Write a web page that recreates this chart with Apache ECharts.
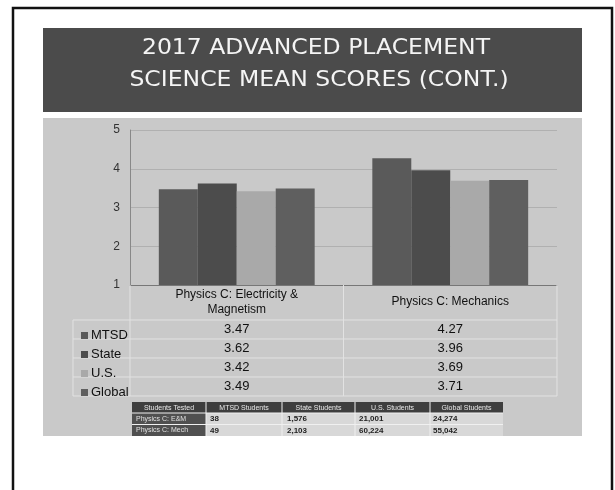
<!DOCTYPE html>
<html>
<head>
<meta charset="utf-8">
<script src="https://cdn.jsdelivr.net/npm/echarts@6/dist/echarts.min.js"></script>
<style>html,body{margin:0;padding:0;background:#fff}#c{width:615px;height:490px}</style>
</head>
<body>
<div id="c"></div>
<script>
// ---- data ----
const titleLines = ['2017 ADVANCED PLACEMENT', 'SCIENCE MEAN SCORES (CONT.)'];
const categories = ['Physics C: Electricity &\nMagnetism', 'Physics C: Mechanics'];
const seriesNames = ['MTSD', 'State', 'U.S.', 'Global'];
const mtsd = [3.47, 4.27];
const state = [3.62, 3.96];
const us = [3.42, 3.69];
const global = [3.49, 3.71];
const yTicks = [1, 2, 3, 4, 5];
const countHeaders = ['Students Tested', 'MTSD Students', 'State Students', 'U.S. Students', 'Global Students'];
const countRowLabels = ['Physics C: E&M', 'Physics C: Mech'];
const countMTSD = ['38', '49'];
const countState = ['1,576', '2,103'];
const countUS = ['21,001', '60,224'];
const countGlobal = ['24,274', '55,042'];

const seriesValues = [mtsd, state, us, global];
const colors = ['#5a5a5a', '#4c4c4c', '#a9a9a9', '#5f5f5f'];
const FONT = 'Liberation Sans, Arial, sans-serif';

const chart = echarts.init(document.getElementById('c'), null, {renderer: 'canvas'});

const baseGraphic = [
  // slide frame
  {type: 'rect', z: -10, silent: true, shape: {x: 13, y: 8, width: 599, height: 500}, style: {fill: '#fff', stroke: '#111', lineWidth: 2.5}},
  // title band
  {type: 'rect', z: -9, silent: true, shape: {x: 43, y: 28, width: 539, height: 84}, style: {fill: '#4b4b4b'}},
  {type: 'text', z: 5, silent: true, x: 316, y: 49, scaleX: 1.12, originX: 0, style: {text: titleLines[0], fill: '#f4f4f4', font: '21px DejaVu Sans, sans-serif', textAlign: 'center', textVerticalAlign: 'middle'}},
  {type: 'text', z: 5, silent: true, x: 319, y: 81, scaleX: 1.12, originX: 0, style: {text: titleLines[1], fill: '#f4f4f4', font: '21px DejaVu Sans, sans-serif', textAlign: 'center', textVerticalAlign: 'middle'}},
  // chart background
  {type: 'rect', z: -9, silent: true, shape: {x: 43, y: 118, width: 539, height: 318}, style: {fill: '#c9c9c9'}}
];

const option = {
  animation: false,
  backgroundColor: '#fff',
  color: colors,
  grid: {left: 130, right: 58, top: 130, bottom: 205, containLabel: false},
  legend: {
    orient: 'vertical', left: 76, top: 321, itemGap: 0, itemWidth: 7, itemHeight: 7, icon: 'rect',
    data: seriesNames,
    textStyle: {fontFamily: FONT, fontSize: 13, color: '#111', lineHeight: 19, padding: [0, 0, 0, -2]}
  },
  xAxis: {
    type: 'category', data: categories,
    axisLine: {show: true, lineStyle: {color: '#777'}},
    axisTick: {show: false},
    axisLabel: {fontFamily: FONT, fontSize: 12, color: '#111', margin: 17, verticalAlign: 'middle', lineHeight: 15}
  },
  yAxis: {
    type: 'value', min: 1, max: 5, interval: 1,
    axisLine: {show: true, lineStyle: {color: '#888'}},
    axisTick: {show: false},
    axisLabel: {fontFamily: FONT, fontSize: 12, color: '#333', margin: 10, formatter: v => yTicks.includes(v) ? String(v) : ''},
    splitLine: {show: true, lineStyle: {color: '#b0b0b0'}}
  },
  series: seriesNames.map((n, i) => ({
    name: n, type: 'bar', data: seriesValues[i], barGap: '0%', barCategoryGap: '27%',
    itemStyle: {color: colors[i]}
  })),
  graphic: baseGraphic
};
chart.setOption(option);

// data table and counts table, positioned from the axis scale
const extra = [];
const xs = categories.map(c => chart.convertToPixel({xAxisIndex: 0}, c));
const yBase = chart.convertToPixel({yAxisIndex: 0}, 1);
const rowTop = yBase + 35, rowH = 19;
const left = 73, right = 557, mid = (xs[0] + xs[1]) / 2;
// table lines
for (let r = 0; r <= 4; r++) {
  extra.push({type: 'line', silent: true, z: 1, shape: {x1: left, y1: rowTop + r * rowH, x2: right, y2: rowTop + r * rowH}, style: {stroke: '#e2e2e2', lineWidth: 1}});
}
extra.push({type: 'line', silent: true, z: 1, shape: {x1: left, y1: rowTop, x2: left, y2: rowTop + 4 * rowH}, style: {stroke: '#e2e2e2', lineWidth: 1}});
extra.push({type: 'line', silent: true, z: 1, shape: {x1: 130, y1: yBase, x2: 130, y2: rowTop + 4 * rowH}, style: {stroke: '#e2e2e2', lineWidth: 1}});
extra.push({type: 'line', silent: true, z: 1, shape: {x1: mid, y1: yBase, x2: mid, y2: rowTop + 4 * rowH}, style: {stroke: '#e2e2e2', lineWidth: 1}});
extra.push({type: 'line', silent: true, z: 1, shape: {x1: right, y1: yBase, x2: right, y2: rowTop + 4 * rowH}, style: {stroke: '#e2e2e2', lineWidth: 1}});
seriesValues.forEach((vals, r) => {
  vals.forEach((v, c) => {
    extra.push({type: 'text', silent: true, z: 5, x: xs[c], y: rowTop + r * rowH + rowH / 2,
      style: {text: v.toFixed(2), fill: '#111', font: '13px ' + FONT, textAlign: 'center', textVerticalAlign: 'middle'}});
  });
});
// counts table
const cLeft = 132, cTop = 402, cW = [74, 76, 73, 75, 73];
let cx = [cLeft];
cW.forEach(w => cx.push(cx[cx.length - 1] + w));
extra.push({type: 'rect', silent: true, z: 1, shape: {x: cLeft, y: cTop, width: cx[5] - cLeft, height: 11}, style: {fill: '#3e3e3e'}});
extra.push({type: 'rect', silent: true, z: 1, shape: {x: cLeft, y: cTop + 11, width: cW[0], height: 23}, style: {fill: '#505050'}});
extra.push({type: 'rect', silent: true, z: 0, shape: {x: cx[1], y: cTop + 11, width: cx[5] - cx[1], height: 23}, style: {fill: '#d8d8d8'}});
for (let i = 1; i < 5; i++) {
  extra.push({type: 'line', silent: true, z: 2, shape: {x1: cx[i], y1: cTop, x2: cx[i], y2: cTop + 34}, style: {stroke: '#f0f0f0', lineWidth: 1}});
}
[cTop + 11, cTop + 22.5].forEach(y => extra.push({type: 'line', silent: true, z: 2, shape: {x1: cLeft, y1: y, x2: cx[5], y2: y}, style: {stroke: '#f0f0f0', lineWidth: 1}}));
countHeaders.forEach((h, i) => extra.push({type: 'text', silent: true, z: 5, x: (cx[i] + cx[i + 1]) / 2, y: cTop + 6,
  style: {text: h, fill: '#e8e8e8', font: '7px ' + FONT, textAlign: 'center', textVerticalAlign: 'middle'}}));
const countCols = [countMTSD, countState, countUS, countGlobal];
const countPos = [[cx[1] + 4, 'left'], [cx[2] + 25, 'right'], [cx[3] + 4, 'left'], [cx[4] + 3, 'left']];
countRowLabels.forEach((lab, r) => {
  const y = cTop + 11 + r * 11.5 + 6;
  extra.push({type: 'text', silent: true, z: 5, x: cx[0] + 4, y: y, style: {text: lab, fill: '#e0e0e0', font: '7px ' + FONT, textAlign: 'left', textVerticalAlign: 'middle'}});
  countCols.forEach((col, c) => extra.push({type: 'text', silent: true, z: 5, x: countPos[c][0], y: y,
    style: {text: col[r], fill: '#222', font: 'bold 8px ' + FONT, textAlign: countPos[c][1], textVerticalAlign: 'middle'}}));
});
chart.setOption({graphic: baseGraphic.concat(extra)});
</script>
</body>
</html>
